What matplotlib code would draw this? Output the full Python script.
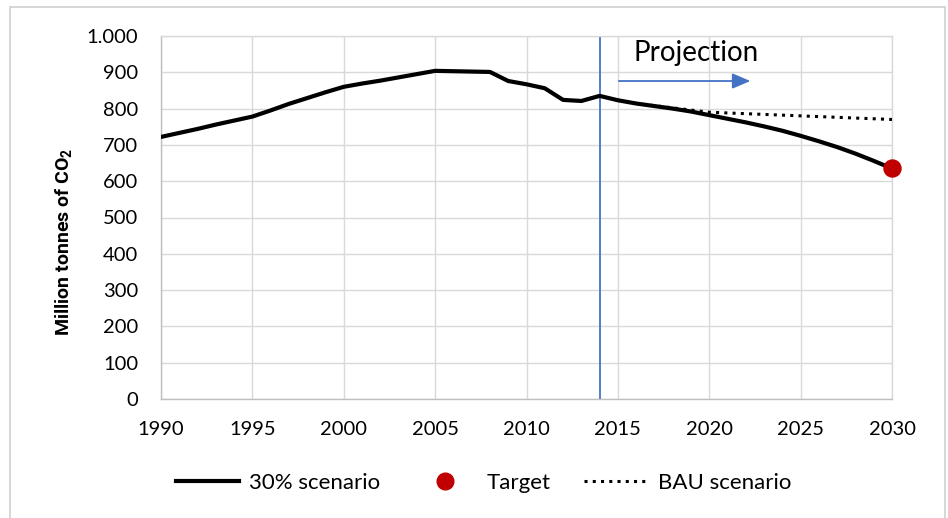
import matplotlib
matplotlib.use("Agg")
import matplotlib.pyplot as plt
from matplotlib.patches import Rectangle
from matplotlib.lines import Line2D
from matplotlib.ticker import FuncFormatter

years_hist = [1990, 1991, 1992, 1993, 1994, 1995, 1996, 1997, 1998, 1999, 2000,
              2001, 2002, 2003, 2004, 2005, 2006, 2007, 2008, 2009, 2010, 2011,
              2012, 2013, 2014]
scen30_hist = [722, 733, 744, 756, 767, 778, 795, 813, 829, 845, 860,
               869, 877, 886, 895, 904, 903, 902, 901, 876, 867, 856,
               824, 821, 835]
years_proj = [2014, 2015, 2016, 2017, 2018, 2019, 2020, 2021, 2022, 2023, 2024,
              2025, 2026, 2027, 2028, 2029, 2030]
scen30_proj = [835, 823, 814, 807, 800, 792, 782, 772, 762, 751, 739,
               725, 710, 694, 676, 656, 635]
years_bau = [2015, 2016, 2017, 2018, 2019, 2020, 2021, 2022, 2023, 2024,
             2025, 2026, 2027, 2028, 2029, 2030]
bau = [823, 814, 808, 802, 796, 790, 788, 786, 784, 782,
       780, 778, 776, 774, 772, 770]
target_year = [2030]
target_val = [635]
x_ticks = [1990, 1995, 2000, 2005, 2010, 2015, 2020, 2025, 2030]
y_ticks = [0, 100, 200, 300, 400, 500, 600, 700, 800, 900, 1000]
projection_start = 2014

plt.rcParams['font.family'] = ['Lato', 'DejaVu Sans']
plt.rcParams['mathtext.fontset'] = 'custom'
plt.rcParams['mathtext.rm'] = 'Roboto'
plt.rcParams['mathtext.bf'] = 'Roboto:bold'

fig = plt.figure(figsize=(9.48, 5.18), dpi=100)
fig.patches.append(Rectangle((10/948, -0.01), (945-10)/948, 1 - 7/518 + 0.01,
                             transform=fig.transFigure, fill=False,
                             edgecolor='#D0D0D0', linewidth=1.2, zorder=0))
ax = fig.add_axes([161/948, 1-399/518, (892-161)/948, (399-36)/518])

ax.set_xlim(1990, 2030)
ax.set_ylim(0, 1000)
ax.set_xticks(x_ticks)
ax.set_yticks(y_ticks)
ax.yaxis.set_major_formatter(FuncFormatter(lambda v, p: f"{int(v):,}".replace(",", ".")))
ax.grid(True, color='#D9D9D9', linewidth=1.0)
ax.set_axisbelow(True)
for s in ax.spines.values():
    s.set_color('#D9D9D9')
    s.set_linewidth(1.0)
ax.spines['bottom'].set_color('#BFBFBF')
ax.spines['left'].set_color('#BFBFBF')
ax.tick_params(length=0, labelsize=14.5, colors='black')
ax.tick_params(axis='y', pad=16.5)
ax.tick_params(axis='x', pad=16)

years_all = years_hist + years_proj[1:]
scen_all = scen30_hist + scen30_proj[1:]
dots = (0, (1, 1.7))
ax.plot(years_bau, bau, color='black', linestyle=dots, linewidth=2.2, zorder=3)
ax.plot(years_all, scen_all, color='black', linewidth=3.0, zorder=4)
ax.scatter(target_year, target_val, s=150, color='#C00000', zorder=5, clip_on=False)

ax.axvline(projection_start, color='#4472C4', linewidth=1.3, zorder=2)
ax.annotate('', xy=(2022.4, 876), xytext=(2014.9, 876),
            arrowprops=dict(arrowstyle='-|>,head_length=1.1,head_width=0.47',
                            color='#4472C4', lw=1.3))
ax.text(2015.85, 953, 'Projection', fontsize=20, va='center', ha='left')

ax.set_ylabel('Million tonnes of CO$_\\mathbf{2}$', fontsize=14, fontweight='bold',
              family=['Roboto', 'DejaVu Sans'])
ax.yaxis.set_label_coords(-0.117, 0.432)

handles = [Line2D([], [], color='black', linewidth=3.0),
           Line2D([], [], color='#C00000', marker='o', linestyle='none', markersize=12),
           Line2D([], [], color='black', linestyle=dots, linewidth=2.2)]
fig.legend(handles, ['30% scenario', 'Target', 'BAU scenario'], loc='center',
           bbox_to_anchor=(0.51, 1-483/518), ncol=3, frameon=False, fontsize=16,
           handlelength=2.85, columnspacing=1.5, handletextpad=0.45)

fig.savefig('out.png', dpi=100)
